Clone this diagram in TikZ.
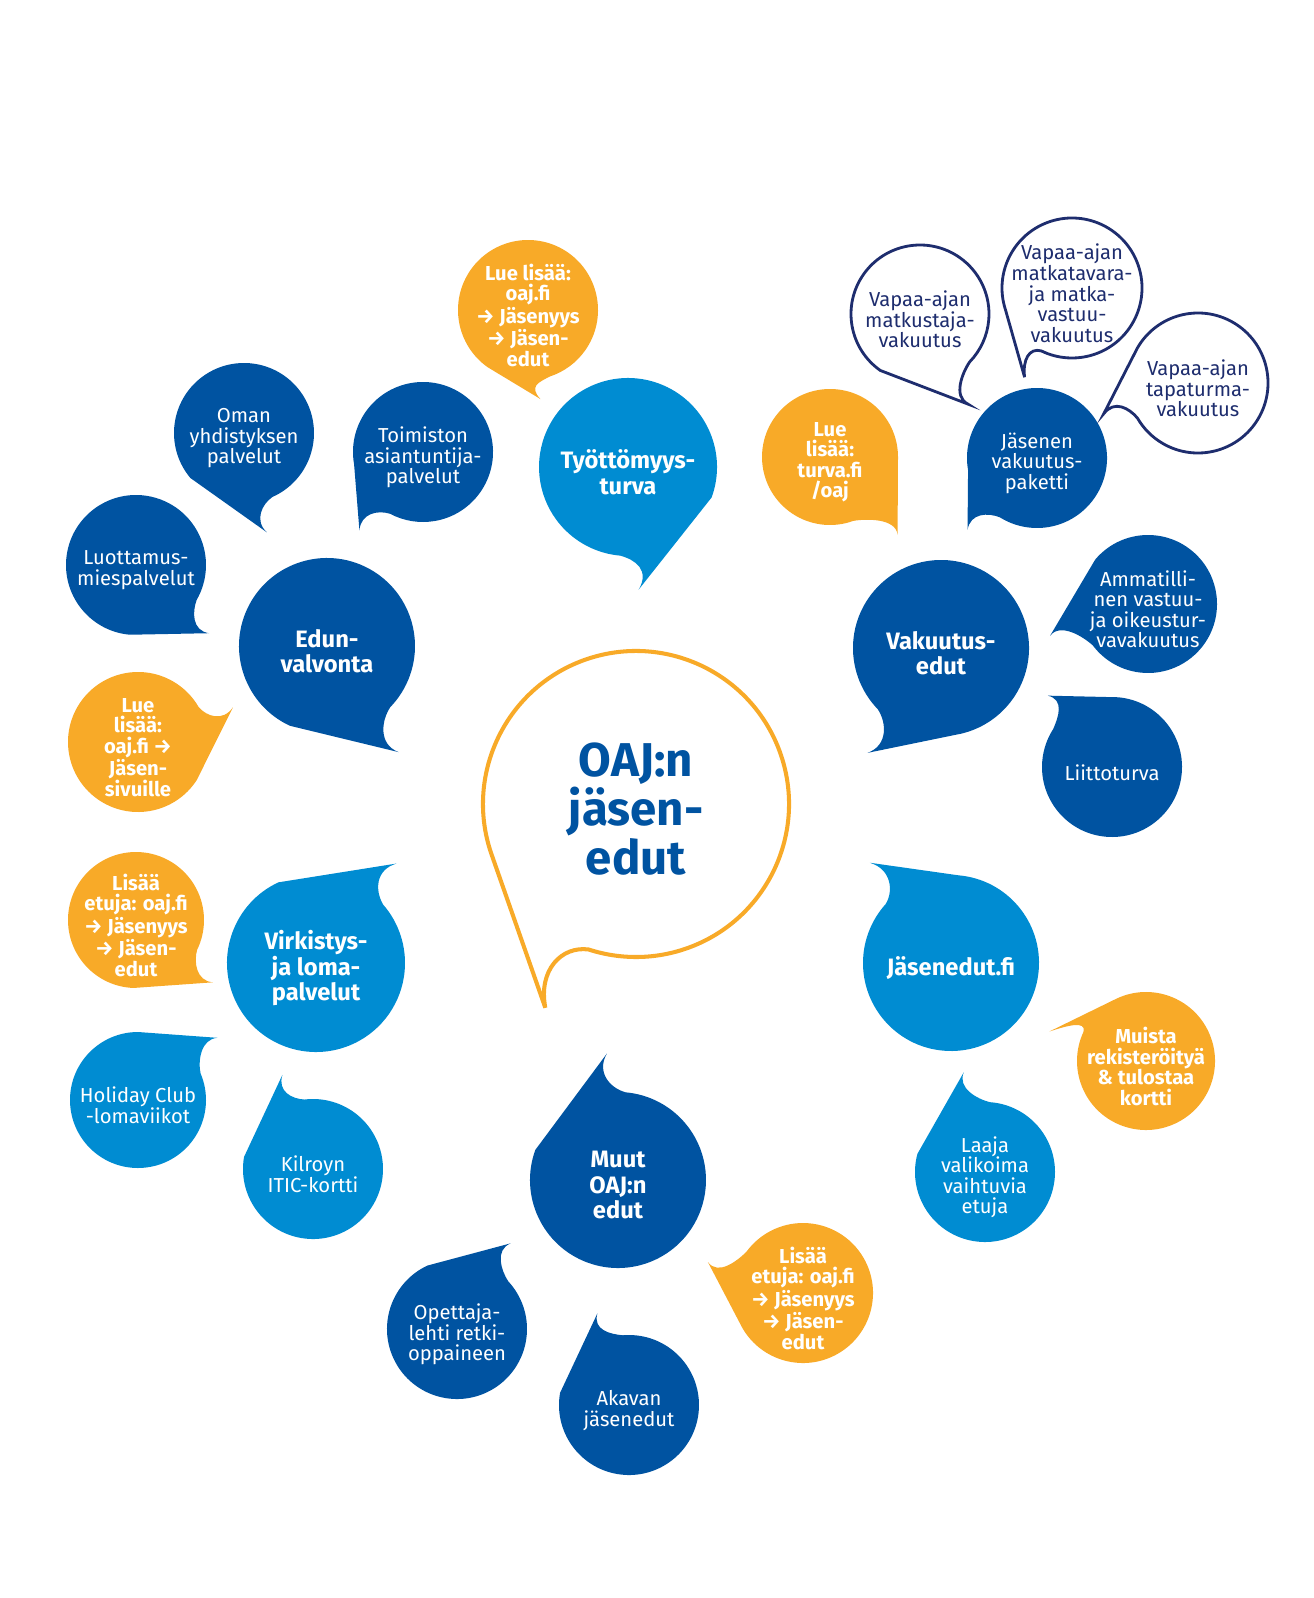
\documentclass[tikz,border=0pt]{standalone}
\usepackage{fontspec}
\setmainfont{Fira Sans}
\usepackage{tikz}
\usetikzlibrary{calc}

\definecolor{oajdark}{RGB}{0,83,161}
\definecolor{oajlight}{RGB}{0,140,210}
\definecolor{oajgold}{RGB}{248,170,40}
\definecolor{oajnavy}{RGB}{30,45,110}

\tikzset{
  bubble/.style={align=center},
  main dark/.style={bubble, fill=oajdark, text=white, font=\fontsize{13.5}{14.5}\selectfont\bfseries},
  main light/.style={bubble, fill=oajlight, text=white, font=\fontsize{13.5}{14.5}\selectfont\bfseries},
  sub dark/.style={bubble, fill=oajdark, text=white, font=\fontsize{11.5}{11.7}\selectfont},
  sub light/.style={bubble, fill=oajlight, text=white, font=\fontsize{11.5}{11.7}\selectfont},
  gold/.style={bubble, fill=oajgold, text=white, font=\fontsize{11.5}{11.7}\selectfont\bfseries},
  ring/.style={bubble, draw=oajnavy, line width=1.6pt, fill=white, text=oajnavy, font=\fontsize{11.5}{11.7}\selectfont},
  hub/.style={bubble, draw=oajgold, line width=2.3pt, fill=white, text=oajdark, font=\fontsize{27}{28}\selectfont\bfseries}
}

% #1 name, #2 centre, #3 radius, #4 #5 arc start/end, #6 tail angle, #7 tail length, #8 style, #9 text
\newcommand{\bubble}[9]{%
  \pgfmathsetmacro{\bsgn}{sign(#5-#4)}%
  \path[#8] (#2) ++(#4:#3) arc[start angle=#4, end angle=#5, radius=#3]
    .. controls +(#5+\bsgn*80:0.18*#3) and +(#6+180-\bsgn*35:0.25*#3) .. ($(#2)+(#6:#7)$) -- cycle;
  \node[#8, fill=none, draw=none, yshift=-3pt] (#1) at (#2) {#9};
}

\begin{document}
\begin{tikzpicture}[x=0.02cm, y=-0.02cm]
\useasboundingbox (0,0) rectangle (1313,1598);

\bubble{hub}{636,804}{153}{160}{468}{114}{223}{hub}{OAJ:n\\jäsen-\\edut}

\bubble{edun}{327,646}{88}{115}{404}{56}{128}{main dark}{Edun-\\valvonta}
\bubble{oman}{244,433}{70}{140}{426}{77}{102}{sub dark}{Oman\\yhdistyksen\\palvelut}
\bubble{toimisto}{423,452}{70}{170}{478}{129}{101}{sub dark}{Toimiston\\asiantuntija-\\palvelut}
\bubble{luottamus}{136,565}{70}{95}{390}{43}{100}{sub dark}{Luottamus-\\miespalvelut}
\bubble{lueedun}{138,742}{70}{33}{330}{340}{101}{gold}{Lue\\lisää:\\oaj.fi →\\Jäsen-\\sivuille}

\bubble{tyott}{628,467}{89}{20}{-265}{85}{123}{main light}{Työttömyys-\\turva}
\bubble{luetyott}{528,310}{70}{125}{432}{82}{90}{gold}{Lue lisää:\\oaj.fi\\→ Jäsenyys\\→ Jäsen-\\edut}

\bubble{vakuutus}{941,648}{88}{80}{-224}{125}{128}{main dark}{Vakuutus-\\edut}
\bubble{luevak}{830,457}{68}{360}{70}{49}{103}{gold}{Lue\\lisää:\\turva.fi\\/oaj}
\bubble{paketti}{1037,458}{70}{170}{482}{134}{100}{sub dark}{Jäsenen\\vakuutus-\\paketti}
\bubble{matkustaja}{920,314}{69}{125}{404}{62}{102}{ring}{Vapaa-ajan\\matkustaja-\\vakuutus}
\bubble{matkatavara}{1072,288}{70}{162}{476}{118}{101}{ring}{Vapaa-ajan\\matkatavara-\\ja matka-\\vastuu-\\vakuutus}
\bubble{tapaturma}{1198,383}{70}{210}{510}{162}{99}{ring}{Vapaa-ajan\\tapaturma-\\vakuutus}
\bubble{ammatti}{1148,604}{69}{220}{503}{162}{103}{sub dark}{Ammatilli-\\nen vastuu-\\ja oikeustur-\\vavakuutus}
\bubble{liitto}{1112,767}{70}{275}{573}{228}{96}{sub dark}{Liittoturva}

\bubble{virkistys}{316,963}{89}{245}{-41}{309}{128}{main light}{Virkistys-\\ja loma-\\palvelut}
\bubble{lisavirk}{136,920}{68}{92}{386}{39}{99}{gold}{Lisää\\etuja: oaj.fi\\→ Jäsenyys\\→ Jäsen-\\edut}
\bubble{holiday}{138,1100}{68}{270}{-23}{322}{101}{sub light}{Holiday Club\\-lomaviikot}
\bubble{kilroy}{313,1169}{70}{190}{-97}{252}{99}{sub light}{Kilroyn\\ITIC-kortti}

\bubble{jasenedut}{951,963}{88}{275}{582}{231}{129}{main light}{Jäsenedut.fi}
\bubble{muista}{1146,1061}{69}{245}{565}{197}{101}{gold}{Muista\\rekisteröityä\\\& tulostaa\\kortti}
\bubble{laaja}{985,1172}{70}{195}{-86}{258}{102}{sub light}{Laaja\\valikoima\\vaihtuvia\\etuja}

\bubble{muut}{618,1180}{88}{200}{-85}{265}{127}{main dark}{Muut\\OAJ:n\\edut}
\bubble{opettaja}{457,1329}{70}{245}{-43}{302}{101}{sub dark}{Opettaja-\\lehti retki-\\oppaineen}
\bubble{akava}{629,1405}{70}{190}{-95}{251}{97}{sub dark}{Akavan\\jäsenedut}
\bubble{lisamuut}{803,1293}{70}{150}{-144}{198}{100}{gold}{Lisää\\etuja: oaj.fi\\→ Jäsenyys\\→ Jäsen-\\edut}
\end{tikzpicture}
\end{document}
